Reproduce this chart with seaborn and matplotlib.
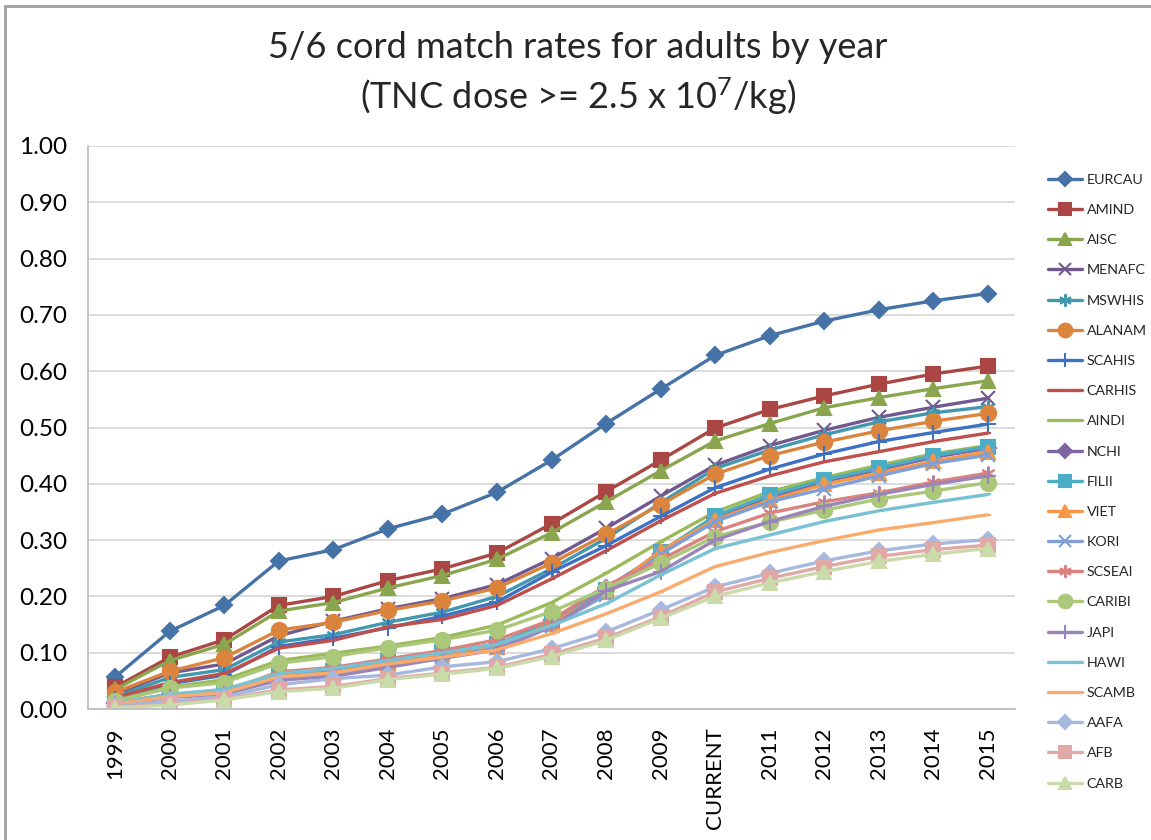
import matplotlib
matplotlib.use("Agg")
import numpy as np
import seaborn as sns
import matplotlib.pyplot as plt
from matplotlib.lines import Line2D
from matplotlib.ticker import FormatStrFormatter


W, H = 1151, 840

years = ["1999", "2000", "2001", "2002", "2003", "2004", "2005", "2006", "2007",
         "2008", "2009", "CURRENT", "2011", "2012", "2013", "2014", "2015"]

series_names = ["EURCAU", "AMIND", "AISC", "MENAFC", "MSWHIS", "ALANAM", "SCAHIS",
                "CARHIS", "AINDI", "NCHI", "FILII", "VIET", "KORI", "SCSEAI",
                "CARIBI", "JAPI", "HAWI", "SCAMB", "AAFA", "AFB", "CARB"]

eurcau = [0.057, 0.138, 0.184, 0.263, 0.283, 0.320, 0.346, 0.385, 0.442, 0.507, 0.568, 0.628, 0.663, 0.689, 0.709, 0.725, 0.738]
amind = [0.039, 0.092, 0.123, 0.184, 0.200, 0.228, 0.249, 0.277, 0.329, 0.386, 0.442, 0.499, 0.532, 0.556, 0.577, 0.595, 0.609]
aisc = [0.035, 0.086, 0.115, 0.174, 0.189, 0.215, 0.237, 0.266, 0.313, 0.368, 0.423, 0.476, 0.507, 0.535, 0.553, 0.569, 0.583]
menafc = [0.026, 0.064, 0.080, 0.130, 0.156, 0.178, 0.196, 0.221, 0.267, 0.321, 0.378, 0.433, 0.468, 0.495, 0.518, 0.536, 0.552]
mswhis = [0.022, 0.056, 0.070, 0.119, 0.132, 0.154, 0.172, 0.200, 0.249, 0.303, 0.366, 0.427, 0.460, 0.487, 0.510, 0.526, 0.537]
alanam = [0.030, 0.067, 0.091, 0.140, 0.154, 0.175, 0.192, 0.215, 0.259, 0.310, 0.363, 0.417, 0.450, 0.474, 0.494, 0.511, 0.525]
scahis = [0.018, 0.045, 0.060, 0.111, 0.126, 0.144, 0.165, 0.190, 0.243, 0.290, 0.342, 0.393, 0.426, 0.453, 0.475, 0.491, 0.506]
carhis = [0.020, 0.047, 0.063, 0.108, 0.122, 0.146, 0.159, 0.184, 0.231, 0.281, 0.334, 0.383, 0.414, 0.439, 0.457, 0.475, 0.490]
aindi = [0.015, 0.039, 0.052, 0.086, 0.099, 0.112, 0.127, 0.149, 0.189, 0.241, 0.297, 0.350, 0.386, 0.411, 0.433, 0.453, 0.468]
nchi = [0.010, 0.026, 0.030, 0.057, 0.064, 0.082, 0.099, 0.113, 0.158, 0.215, 0.276, 0.339, 0.376, 0.404, 0.425, 0.447, 0.463]
filii = [0.010, 0.026, 0.031, 0.060, 0.068, 0.085, 0.101, 0.115, 0.154, 0.211, 0.279, 0.343, 0.380, 0.407, 0.428, 0.450, 0.466]
viet = [0.009, 0.024, 0.029, 0.058, 0.064, 0.082, 0.097, 0.111, 0.151, 0.208, 0.281, 0.336, 0.371, 0.399, 0.419, 0.440, 0.457]
kori = [0.008, 0.021, 0.026, 0.052, 0.060, 0.076, 0.092, 0.108, 0.147, 0.203, 0.275, 0.333, 0.368, 0.391, 0.414, 0.436, 0.451]
scseai = [0.011, 0.026, 0.031, 0.066, 0.074, 0.089, 0.104, 0.123, 0.158, 0.219, 0.265, 0.315, 0.348, 0.368, 0.384, 0.403, 0.419]
caribi = [0.014, 0.037, 0.047, 0.081, 0.093, 0.109, 0.123, 0.140, 0.173, 0.214, 0.259, 0.306, 0.332, 0.353, 0.373, 0.387, 0.402]
japi = [0.008, 0.021, 0.027, 0.051, 0.058, 0.074, 0.090, 0.105, 0.146, 0.210, 0.244, 0.300, 0.333, 0.360, 0.381, 0.399, 0.414]
hawi = [0.011, 0.026, 0.035, 0.063, 0.072, 0.086, 0.100, 0.115, 0.148, 0.187, 0.238, 0.285, 0.309, 0.333, 0.352, 0.367, 0.381]
scamb = [0.009, 0.022, 0.029, 0.057, 0.064, 0.080, 0.092, 0.105, 0.134, 0.169, 0.208, 0.253, 0.278, 0.299, 0.318, 0.331, 0.345]
aafa = [0.006, 0.014, 0.022, 0.043, 0.054, 0.060, 0.075, 0.084, 0.107, 0.137, 0.176, 0.217, 0.241, 0.263, 0.281, 0.293, 0.301]
afb = [0.003, 0.009, 0.018, 0.034, 0.040, 0.054, 0.064, 0.074, 0.097, 0.126, 0.164, 0.208, 0.232, 0.253, 0.271, 0.283, 0.291]
carb = [0.002, 0.007, 0.016, 0.031, 0.037, 0.052, 0.062, 0.072, 0.093, 0.122, 0.161, 0.200, 0.224, 0.244, 0.262, 0.275, 0.285]

series_values = [eurcau, amind, aisc, menafc, mswhis, alanam, scahis, carhis, aindi,
                 nchi, filii, viet, kori, scseai, caribi, japi, hawi, scamb, aafa,
                 afb, carb]

# estilo parecido com o Excel 2007
cores = ["#4572A7", "#AA4643", "#89A54E", "#71588F", "#4198AF", "#DB843D",
         "#3D72C2", "#C0504D", "#9BBB59", "#8064A2", "#4BACC6", "#F79646",
         "#7F9FD6", "#D9827F", "#ABC77A", "#9B85B8", "#78C0D4", "#F9AB6E",
         "#A5B8DE", "#E0A9A8", "#C9DBA8"]
marcadores = ["D", "s", "^", "x", (6, 2, 0), "o", "+", "_", "_", "D", "s", "^",
              "x", (6, 2, 0), "o", "+", "_", "_", "D", "s", "^"]
tamanhos = [8, 10, 10, 10, 10, 11, 11, 4, 4, 8, 10, 10, 10, 10, 11, 11, 4, 4, 8, 10, 10]

sns.set_style("white")
plt.rcParams['font.family'] = ['Lato', 'DejaVu Sans']
plt.rcParams['mathtext.fontset'] = 'custom'
plt.rcParams['mathtext.rm'] = 'Lato'
plt.rcParams['mathtext.it'] = 'Lato'

fig = plt.figure(figsize=(W / 100, H / 100), dpi=100)
ax = fig.add_axes([88 / W, 1 - 709 / H, (1015 - 88) / W, (709 - 146) / H])

for nome, valores, cor, mk, ms in zip(series_names, series_values, cores, marcadores, tamanhos):
    sns.lineplot(x=years, y=valores, color=cor, marker=mk, markersize=ms,
                 markeredgecolor=cor, markerfacecolor=cor, markeredgewidth=1.5,
                 linewidth=2.4, sort=False, estimator=None, label=nome,
                 legend=False, ax=ax)

ax.set_xlim(-0.5, len(years) - 0.5)
ax.set_ylim(0, 1)
ax.set_yticks(np.arange(0, 1.01, 0.1))
ax.yaxis.set_major_formatter(FormatStrFormatter('%.2f'))
ax.set_xlabel("")
ax.set_ylabel("")

ax.grid(axis='y', color='#D9D9D9', linewidth=1.3)
ax.grid(axis='x', visible=False)
ax.set_axisbelow(True)
for lado in ['top', 'right']:
    ax.spines[lado].set_visible(False)
for lado in ['left', 'bottom']:
    ax.spines[lado].set_color('#BFBFBF')
    ax.spines[lado].set_linewidth(1.3)

ax.set_xticks(np.arange(-0.5, len(years), 1), minor=True)
ax.tick_params(axis='x', which='major', length=0, pad=13, labelsize=16,
               rotation=90, colors='black')
ax.tick_params(axis='x', which='minor', length=7, width=1.3, color='#BFBFBF',
               direction='out')
ax.tick_params(axis='y', length=6, width=1.3, color='#BFBFBF', pad=9,
               labelsize=17.5, colors='black')
for t in ax.get_yticklabels():
    t.set_color('black')

# legenda à direita
linhas = ax.get_lines()
fig.legend(linhas, series_names, loc='upper left',
           bbox_to_anchor=(1035 / W, 1 - 161 / H), frameon=False,
           fontsize=10.3, handlelength=2.4, labelspacing=1.27, handletextpad=0.3,
           markerscale=0.9)

fig.text(0.502, 1 - 48 / H, "5/6 cord match rates for adults by year",
         ha='center', va='center', fontsize=26)
fig.text(0.502, 1 - 96 / H, r"(TNC dose >= 2.5 x 10$^{\mathrm{7}}$/kg)",
         ha='center', va='center', fontsize=26)

# moldura do gráfico
fig.add_artist(Line2D([5 / W, 1], [1 - 6 / H, 1 - 6 / H], transform=fig.transFigure,
                      color='#A0A0A0', linewidth=2))
fig.add_artist(Line2D([5 / W, 5 / W], [0, 1 - 6 / H], transform=fig.transFigure,
                      color='#A0A0A0', linewidth=2))

fig.savefig("out.png", dpi=100)
